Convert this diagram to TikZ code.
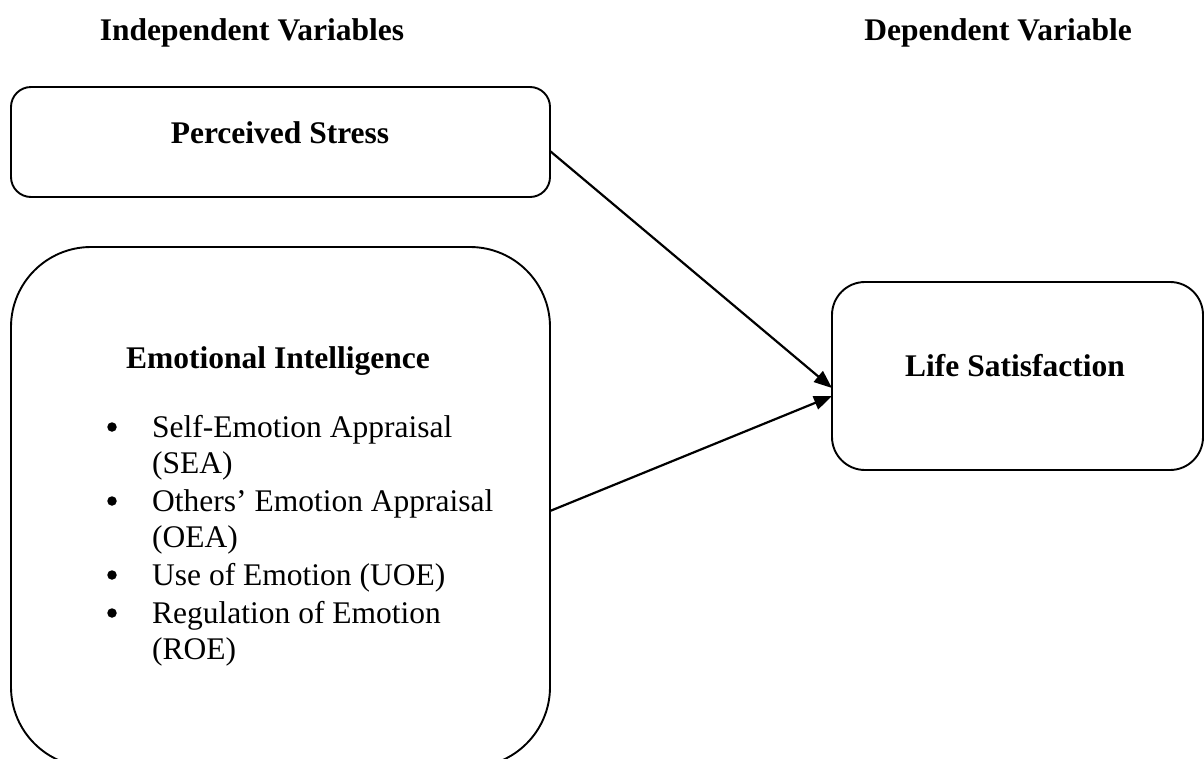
\documentclass[tikz,border=0pt]{standalone}
\usepackage{fontspec}
\setmainfont{Liberation Serif}
\usetikzlibrary{arrows.meta}
\begin{document}
\begin{tikzpicture}[x=1pt,y=-1pt,
  box/.style={draw,line width=1.9pt,inner sep=0pt,outer sep=0pt},
  txt/.style={inner sep=0pt,anchor=base west,font=\fontsize{31.5}{36}\selectfont},
  btxt/.style={inner sep=0pt,anchor=base,font=\fontsize{31.5}{36}\selectfont\bfseries},
  arr/.style={line width=2.2pt,-{Triangle[length=18pt,width=14pt]}},
  bul/.style={circle,fill,inner sep=0pt,minimum size=9.5pt}]
\useasboundingbox (0,0) rectangle (1204,758);
% headers
\node[btxt] (hind) at (252,40) {Independent Variables};
\node[btxt] (hdep) at (998,40) {Dependent Variable};
% boxes
\node[box,rounded corners=20pt,minimum width=539pt,minimum height=110pt] (ps) at (280.5,142) {};
\node[box,rounded corners=80pt,minimum width=539pt,minimum height=520pt] (ei) at (280.5,507) {};
\node[box,rounded corners=33pt,minimum width=371pt,minimum height=188pt] (ls) at (1017.5,376) {};
% box texts
\node[btxt] (pst) at (280,143) {Perceived Stress};
\node[btxt] (eit) at (278,368) {Emotional Intelligence};
\node[btxt] (lst) at (1015,376) {Life Satisfaction};
% bullet list
\node[bul] (b1) at (112,427) {};
\node[txt] (l1) at (152,437) {Self-Emotion Appraisal};
\node[txt] (l2) at (152,473) {(SEA)};
\node[bul] (b2) at (112,501) {};
\node[txt] (l3) at (152,511) {Others’ Emotion Appraisal};
\node[txt] (l4) at (152,547) {(OEA)};
\node[bul] (b3) at (112,575) {};
\node[txt] (l5) at (152,585) {Use of Emotion (UOE)};
\node[bul] (b4) at (112,613) {};
\node[txt] (l6) at (152,623) {Regulation of Emotion};
\node[txt] (l7) at (152,659) {(ROE)};
% arrows
\draw[arr] (ps.east |- 0,151) -- (ls.west |- 0,388);
\draw[arr] (ei.east |- 0,511) -- (ls.west |- 0,396);
\end{tikzpicture}
\end{document}
